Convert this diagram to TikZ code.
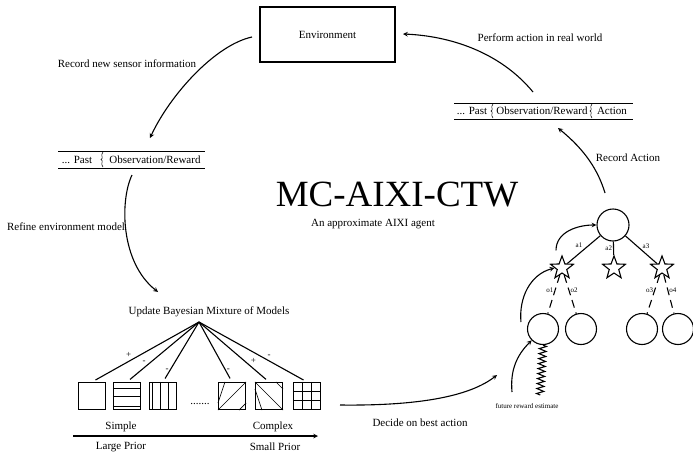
\documentclass[tikz,border=0pt]{standalone}
\usepackage{fontspec}
\setmainfont{Liberation Serif}
\usepackage{tikz}
\usetikzlibrary{shapes.geometric,decorations.pathmorphing,calc}

\tikzset{
  model/.style={draw, minimum size=27pt, inner sep=0pt},
  state/.style={draw, circle, minimum size=31pt, inner sep=0pt},
  choice/.style={draw, star, star points=5, star point ratio=2.4, minimum size=24pt, inner sep=0pt},
  tiny/.style={font=\fontsize{7}{8}\selectfont, inner sep=1pt},
  sign/.style={font=\fontsize{9}{10}\selectfont, inner sep=1pt},
  obs/.style={dash pattern=on 8pt off 5pt},
}

% little wavy separator in the history strips
\newcommand{\histsep}[3]{%
  \draw[line width=0.5pt] (#1,#2) .. controls ({#1-3},{#2-3}) and ({#1+1},{(#2+#3)/2+1}) .. ({#1-2},{(#2+#3)/2})
    .. controls ({#1+1},{(#2+#3)/2-1}) and ({#1-3},{#3+3}) .. (#1,#3);}

\begin{document}
\begin{tikzpicture}[x=1pt,y=1pt,>=stealth,line width=1.1pt,font=\fontsize{11}{13}\selectfont]
    \useasboundingbox (0,0) rectangle (693,-452);

    % Environment
    \node[draw, minimum width=135pt, minimum height=55pt] (env) at (327.5,-34.5) {Environment};

    % History strips
    \draw[line width=0.8pt] (58,-151) -- (205,-151) (58,-168) -- (205,-168);
    \node (pastA) at (77,-159.5) {... Past};
    \node (obsA) at (155,-159.5) {Observation/Reward};
    \histsep{103}{-152}{-167}

    \draw[line width=0.8pt] (454,-103) -- (633,-103) (454,-119) -- (633,-119);
    \node (pastB) at (472,-111) {... Past};
    \node (obsB) at (542,-111) {Observation/Reward};
    \node (actB) at (612,-111) {Action};
    \histsep{493}{-104}{-118}
    \histsep{592}{-104}{-118}

    % Title
    \node (title) at (397,-195) {\fontsize{37}{40}\selectfont MC-AIXI-CTW};
    \node (subtitle) at (373,-224) {An approximate AIXI agent};

    % Outer loop
    \coordinate (senseA) at (252,-37);
    \coordinate (senseB) at (150,-138);
    \draw[->] (senseA) .. controls (215,-45) and (170,-95) .. (senseB);
    \node (sense) at (127,-64) {Record new sensor information};

    \coordinate (refineA) at (132,-175);
    \coordinate (refineB) at (158,-292);
    \draw[->] (refineA) .. controls (120,-200) and (120,-262) .. (refineB);
    \node (refine) at (66,-227) {Refine environment model};

    \coordinate (actA) at (533,-92);
    \coordinate (actZ) at (403,-34);
    \draw[->] (actA) .. controls (500,-52) and (450,-36) .. (actZ);
    \node (perform) at (540,-38) {Perform action in real world};

    \coordinate (recA) at (605,-193);
    \coordinate (recB) at (558,-128);
    \draw[->] (recA) .. controls (598,-170) and (585,-150) .. (recB);
    \node (record) at (628,-158) {Record Action};

    % Mixture of models
    \node (update) at (209,-312) {Update Bayesian Mixture of Models};
    \coordinate (apex) at (199,-322);

    \node[model] (m1) at (92,-396) {};
    \node[model] (m2) at (127,-396) {};
    \node[model] (m3) at (163,-396) {};
    \node (dots) at (200,-404) {.......};
    \node[model] (m4) at (232,-396) {};
    \node[model] (m5) at (269,-396) {};
    \node[model] (m6) at (307,-396) {};

    % patterns
    \foreach \f in {0.22,0.5,0.85}
        \draw[line width=0.6pt] ($(m2.north west)!\f!(m2.south west)$) -- ($(m2.north east)!\f!(m2.south east)$);
    \foreach \f in {0.12,0.4,0.68}
        \draw[line width=0.6pt] ($(m3.north west)!\f!(m3.north east)$) -- ($(m3.south west)!\f!(m3.south east)$);
    \draw[line width=0.6pt] ($(m4.south west)!0.5!(m4.west)$) -- ($(m4.north west)!0.5!(m4.north)$)
        (m4.south west) -- (m4.north east)
        ($(m4.south)!0.5!(m4.south east)$) -- ($(m4.east)!0.5!(m4.south east)$);
    \draw[line width=0.6pt] ($(m5.north west)!0.5!(m5.west)$) -- ($(m5.south west)!0.5!(m5.south)$)
        (m5.north west) -- (m5.south east)
        ($(m5.north)!0.5!(m5.north east)$) -- ($(m5.east)!0.5!(m5.north east)$);
    \foreach \f in {0.33,0.67} {
        \draw[line width=0.6pt] ($(m6.north west)!\f!(m6.south west)$) -- ($(m6.north east)!\f!(m6.south east)$);
        \draw[line width=0.6pt] ($(m6.north west)!\f!(m6.north east)$) -- ($(m6.south west)!\f!(m6.south east)$);
    }

    \draw[shorten >=4pt] (apex) -- (m1.north) node[sign, pos=0.62, above left] {+};
    \draw[shorten >=4pt] (apex) -- (m2.north) node[sign, pos=0.72, above left] {-};
    \draw[shorten >=4pt] (apex) -- (m3.north) node[sign, pos=0.8, left] {-};
    \draw[shorten >=4pt] (apex) -- (m4.north) node[sign, pos=0.8, right] {-};
    \draw[shorten >=4pt] (apex) -- (m5.north) node[sign, pos=0.72, above right] {+};
    \draw[shorten >=4pt] (apex) -- (m6.north) node[sign, pos=0.62, above right] {-};

    % Prior axis
    \coordinate (axL) at (73,-436);
    \coordinate (axR) at (318,-436);
    \draw[->] (axL) -- (axR);
    \node (simple) at (121,-427) {Simple};
    \node (complex) at (273,-427) {Complex};
    \node (large) at (121,-447) {Large Prior};
    \node (small) at (275,-447) {Small Prior};

    \coordinate (decA) at (340,-405);
    \coordinate (decB) at (497,-375);
    \draw[->] (decA) .. controls (420,-406) and (470,-396) .. (decB);
    \node (decide) at (420,-423) {Decide on best action};

    % Search tree
    \node[state, minimum size=32pt] (root) at (613,-225) {};
    \node[choice] (s1) at (562,-268) {};
    \node[choice] (s2) at (614,-268) {};
    \node[choice] (s3) at (662,-268) {};
    \node[state] (l1) at (543,-329) {};
    \node[state] (l2) at (581,-329) {};
    \node[state] (l3) at (642,-329) {};
    \node[state] (l4) at (678,-329) {};

    \draw (root) -- (s1) node[tiny, midway, above left=0pt] {a1};
    \draw (root) -- (s2) node[tiny, midway, left] {a2};
    \draw (root) -- (s3) node[tiny, midway, above right=0pt] {a3};

    \draw[obs] (s1) -- (l1) node[tiny, pos=0.4, left] {o1};
    \draw[obs] (s1) -- (l2) node[tiny, pos=0.4, right] {o2};
    \draw[obs] (s3) -- (l3) node[tiny, pos=0.4, left] {o3};
    \draw[obs] (s3) -- (l4) node[tiny, pos=0.4, right] {o4};

    \draw[->] ([shift={(-6,4)}]s1.north) to[out=90, in=180] (root.west);
    \draw[->] ([shift={(-6,7)}]l1.west) to[out=95, in=195] (s1.west);
    \coordinate (fre) at (512,-392);
    \draw[->] (fre) to[out=95, in=225] (l1.south west);
    \coordinate (zz) at (540,-395);
    \draw[decorate, decoration={zigzag, segment length=5pt, amplitude=3.5pt}] (l1.south) -- (zz);
    \node[tiny] (future) at (527,-406) {future reward estimate};

\end{tikzpicture}
\end{document}
